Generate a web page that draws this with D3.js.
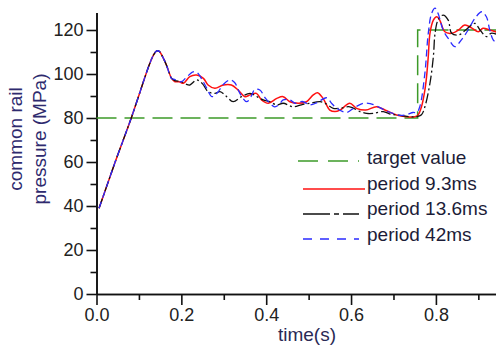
<!DOCTYPE html>
<html>
<head>
<meta charset="utf-8">
<script src="https://cdn.jsdelivr.net/npm/d3@7"></script>
<style>
  body { margin: 0; background: #fff; }
  svg { display: block; font-family: "Liberation Sans", Arial, sans-serif; }
</style>
</head>
<body>
<script>
// target pressure step
const tTarget = [0, 0.757, 0.757, 0.944]
const pTarget = [80, 80, 120, 120]

// common rise, shared by the three runs
const tRise = [0.006, 0.025, 0.044, 0.064, 0.083, 0.102, 0.114, 0.126, 0.134, 0.142, 0.148, 0.156, 0.165, 0.177]
const pRise = [39, 49.5, 60, 70.5, 80.6, 91.5, 98.5, 105, 108.5, 110.5, 110.3, 107.8, 104, 98]

// period 9.3ms
const t93 = [0.185, 0.195, 0.205, 0.220, 0.236, 0.252, 0.263, 0.279, 0.299, 0.318, 0.334, 0.350, 0.362, 0.377, 0.389, 0.405, 0.425, 0.440, 0.456, 0.476, 0.495, 0.511, 0.521, 0.534, 0.550, 0.562, 0.574, 0.597, 0.613, 0.635, 0.660, 0.684, 0.707, 0.731, 0.750, 0.758, 0.766, 0.774, 0.778, 0.782, 0.786, 0.794, 0.802, 0.809, 0.821, 0.837, 0.853, 0.868, 0.884, 0.900, 0.911, 0.927, 0.944]
const p93 = [96.5, 96.5, 95.8, 98.8, 99.5, 98, 95, 93.5, 95, 95, 92.7, 89.7, 90.5, 91.2, 88.2, 86.7, 88.9, 89.7, 87.4, 86.7, 87.4, 90.5, 91.5, 88.9, 83.6, 82.9, 83.6, 86.7, 84.4, 83.6, 85.1, 83.3, 81.4, 80.6, 80.6, 81.4, 85.1, 92.7, 98.8, 107.9, 118.5, 124.5, 126, 124.5, 119.2, 118.5, 120, 122.3, 121, 119.2, 120.8, 120, 119]

// period 13.6ms
const t136 = [0.185, 0.200, 0.210, 0.220, 0.236, 0.250, 0.263, 0.279, 0.291, 0.307, 0.322, 0.342, 0.362, 0.380, 0.393, 0.409, 0.425, 0.440, 0.464, 0.483, 0.503, 0.527, 0.540, 0.558, 0.574, 0.597, 0.621, 0.637, 0.652, 0.676, 0.692, 0.707, 0.739, 0.755, 0.766, 0.774, 0.786, 0.794, 0.798, 0.805, 0.817, 0.829, 0.837, 0.853, 0.870, 0.892, 0.904, 0.919, 0.930, 0.944]
const p136 = [97, 96.5, 95.5, 95, 97.3, 95.5, 92, 91.2, 92, 89.7, 87.4, 89.7, 91.2, 89.5, 88.2, 87.4, 85.9, 86.7, 85.1, 86, 86.7, 87.4, 86.5, 84.4, 84.4, 85.1, 82.9, 82.1, 82.1, 82.9, 81.8, 81.4, 80.6, 80.6, 81.5, 85.1, 95.8, 107.9, 118.5, 124.5, 126.8, 124.5, 118.5, 117.7, 120, 123, 120, 117, 118.5, 118]

// period 42ms
const t42 = [0.185, 0.200, 0.212, 0.228, 0.238, 0.250, 0.260, 0.272, 0.285, 0.300, 0.315, 0.326, 0.338, 0.354, 0.365, 0.373, 0.385, 0.398, 0.409, 0.420, 0.430, 0.440, 0.456, 0.468, 0.485, 0.503, 0.520, 0.542, 0.555, 0.566, 0.589, 0.610, 0.629, 0.645, 0.660, 0.680, 0.700, 0.715, 0.730, 0.746, 0.755, 0.762, 0.774, 0.782, 0.790, 0.798, 0.805, 0.817, 0.829, 0.845, 0.860, 0.876, 0.892, 0.908, 0.919, 0.927, 0.935, 0.944]
const p42 = [97.5, 96.5, 98.5, 101, 100.5, 97, 93.5, 89.7, 91.5, 95.5, 97.3, 96, 91.2, 87.4, 90, 93, 92.7, 89, 86.7, 85.1, 86, 88.2, 88.2, 86.7, 87.5, 86, 87, 89.2, 86.5, 84.5, 82.5, 85, 86.7, 86.5, 85.5, 83.5, 82, 81.2, 81.5, 82.5, 82.5, 85.1, 100.3, 118.5, 127.6, 129.9, 127.6, 120, 116.2, 112.4, 115.5, 120, 125.3, 128.3, 126, 120, 115.5, 114]

const xMajor = [0, 0.2, 0.4, 0.6, 0.8]
const xMinor = [0.1, 0.3, 0.5, 0.7, 0.9]
const yMajor = [0, 20, 40, 60, 80, 100, 120]
const yMinor = [10, 30, 50, 70, 90, 110]

const legendNames = ['target value', 'period 9.3ms', 'period 13.6ms', 'period 42ms']

const w = 496
const h = 349

const zip = (ts, ps) => ts.map((t, i) => [t, ps[i]])
const rise = zip(tRise, pRise)

const series = [
  { name: legendNames[0], pts: zip(tTarget, pTarget), color: '#3c9a28', width: 1.5, dash: '20,8', legDash: '20,10', curve: d3.curveLinear, ly: 161 },
  { name: legendNames[1], pts: rise.concat(zip(t93, p93)), color: '#ff1010', width: 1.5, dash: null, legDash: null, curve: d3.curveCatmullRom, ly: 189 },
  { name: legendNames[2], pts: rise.concat(zip(t136, p136)), color: '#111', width: 1.3, dash: '10,3,2,3', legDash: '27,4,5,4', curve: d3.curveCatmullRom, ly: 214 },
  { name: legendNames[3], pts: rise.concat(zip(t42, p42)), color: '#2b2bff', width: 1.3, dash: '7,4', legDash: '9,8', curve: d3.curveCatmullRom, ly: 239 }
]

const svg = d3.select('body')
  .append('svg')
  .attr('width', w)
  .attr('height', h)

const xScale = d3.scaleLinear()
  .domain([0, 0.944])
  .range([96.5, 497])

const yScale = d3.scaleLinear()
  .domain([0, 128])
  .range([294, 12.4])

// axes: minor ticks first, then labelled major ticks
svg.append('g')
  .attr('transform', 'translate(0,294)')
  .call(d3.axisBottom(xScale).tickValues(xMinor).tickSize(6).tickSizeOuter(0).tickFormat(''))
svg.append('g')
  .attr('class', 'xaxis')
  .attr('transform', 'translate(0,294)')
  .call(d3.axisBottom(xScale).tickValues(xMajor).tickSize(11).tickSizeOuter(0).tickFormat(d3.format('.1f')))

svg.append('g')
  .attr('transform', 'translate(96.5,0)')
  .call(d3.axisLeft(yScale).tickValues(yMinor).tickSize(6).tickSizeOuter(0).tickFormat(''))
svg.append('g')
  .attr('class', 'yaxis')
  .attr('transform', 'translate(96.5,0)')
  .call(d3.axisLeft(yScale).tickValues(yMajor).tickSize(10).tickSizeOuter(0))

svg.selectAll('.domain, .tick line')
  .attr('stroke', '#111')
  .attr('stroke-width', 1.6)
svg.selectAll('.tick text')
  .attr('fill', '#222')
  .style('font-size', '18px')

// curves
const line = d3.line()
  .x(d => xScale(d[0]))
  .y(d => yScale(d[1]))

series.forEach(s => {
  svg.append('path')
    .datum(s.pts)
    .attr('fill', 'none')
    .attr('stroke', s.color)
    .attr('stroke-width', s.width)
    .attr('stroke-dasharray', s.dash)
    .attr('d', line.curve(s.curve))
})

// axis titles
const title = svg.append('text')
  .attr('transform', 'rotate(-90)')
  .attr('text-anchor', 'middle')
  .attr('fill', '#2e2a6e')
  .style('font-size', '19px')
title.append('tspan').attr('x', -139).attr('y', 22).text('common rail')
title.append('tspan').attr('x', -139).attr('y', 46).text('pressure  (MPa)')

svg.append('text')
  .attr('x', 307)
  .attr('y', 341)
  .attr('text-anchor', 'middle')
  .attr('fill', '#2a2a55')
  .style('font-size', '19px')
  .text('time(s)')

// legend
series.forEach((s, i) => {
  svg.append('line')
    .attr('x1', i === 0 ? 298 : 303)
    .attr('x2', i === 1 ? 365 : 359)
    .attr('y1', s.ly)
    .attr('y2', s.ly)
    .attr('stroke', s.color)
    .attr('stroke-width', 1.5)
    .attr('stroke-dasharray', s.legDash)
  svg.append('text')
    .attr('x', 367)
    .attr('y', 164 + i * 25.7)
    .attr('fill', '#1c1c38')
    .style('font-size', '19px')
    .text(s.name)
})
</script>
</body>
</html>
